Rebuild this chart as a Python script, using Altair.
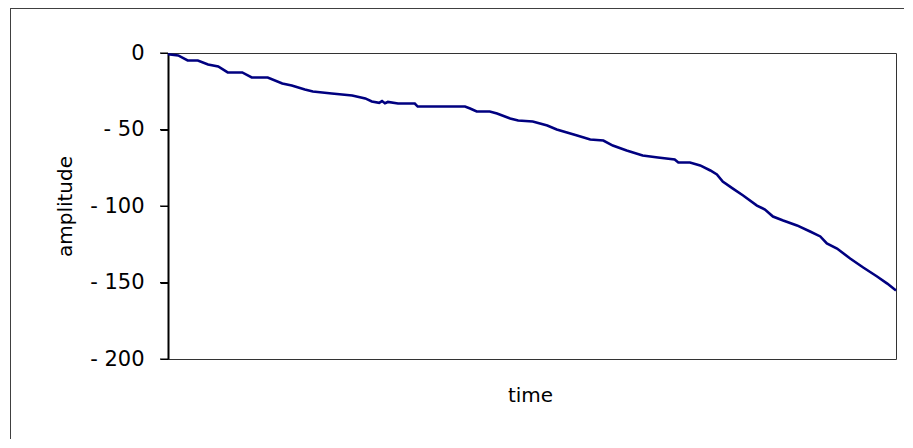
import altair as alt
import pandas as pd

# time axis (0..100, no labels) and amplitude values
time = [0, 1.4, 2.7, 4.1, 5.5, 6.9, 8.2, 10.2, 11.5, 13.7, 15.7, 17.0, 18.8, 19.9,
        22.5, 25.3, 27.1, 28.0, 29.0, 29.4, 29.8, 30.2, 31.6, 33.9, 34.3, 40.8, 41.5,
        42.4, 44.2, 45.2, 47.0, 48.1, 50.1, 52.1, 53.4, 54.8, 56.2, 58.0, 59.8, 61.1,
        63.0, 65.2, 67.3, 69.6, 70.1, 71.7, 73.1, 74.5, 75.4, 76.2, 77.6, 79.0, 80.9,
        82.0, 83.1, 84.5, 86.4, 88.2, 89.6, 90.5, 91.9, 93.7, 95.5, 97.4, 98.8, 100]
amplitude = [-0.8, -1.6, -4.9, -4.9, -7.5, -8.8, -12.7, -12.7, -16.0, -16.0, -19.9,
             -21.2, -23.9, -25.2, -26.5, -27.8, -29.7, -31.7, -32.6, -31.4, -32.8, -32.0,
             -33.0, -33.0, -35.0, -35.0, -36.3, -38.2, -38.2, -39.5, -42.8, -44.1, -44.8,
             -47.4, -50.0, -52.0, -53.9, -56.5, -57.2, -60.5, -63.7, -67.0, -68.3, -69.6,
             -71.6, -71.6, -73.5, -76.8, -79.4, -84.0, -88.6, -93.1, -99.7, -102.3,
             -106.9, -109.5, -112.7, -116.7, -119.9, -124.5, -127.8, -134.3, -140.2,
             -146.1, -150.7, -155.2]
y_ticks = [0, -50, -100, -150, -200]

df = pd.DataFrame({"time": time, "amplitude": amplitude})
df_ticks = pd.DataFrame({"amplitude": y_ticks})

W, H = 728, 306

x_enc = alt.X("time:Q",
              scale=alt.Scale(domain=[0, 100], nice=False, zero=False),
              axis=alt.Axis(title="time", labels=False, ticks=False, domain=False,
                            grid=False, titleFont="DejaVu Sans", titleFontSize=20,
                            titleFontWeight="normal", titleColor="#000000",
                            titleX=362, titleY=36, titleBaseline="middle",
                            titleAlign="center"))
y_scale = alt.Scale(domain=[-200, 0], nice=False)

line = alt.Chart(df).mark_line(color="#000080", strokeWidth=2.6).encode(
    x=x_enc,
    y=alt.Y("amplitude:Q", scale=y_scale,
            axis=alt.Axis(title="amplitude", values=y_ticks, grid=False,
                          labelExpr="datum.value == 0 ? '0' : '- ' + toString(abs(datum.value))",
                          labelFont="DejaVu Sans", labelFontSize=21, labelColor="#000000",
                          labelPadding=16, labelBaseline="middle",
                          ticks=True, tickSize=8, tickColor="#000000", tickWidth=1,
                          domain=True, domainColor="#000000", domainWidth=2,
                          titleFont="DejaVu Sans", titleFontSize=20,
                          titleFontWeight="normal", titleColor="#000000",
                          titleAngle=270, titleX=-103, titleY=H / 2,
                          titleBaseline="middle", titleAlign="center")),
)

ticks = alt.Chart(df_ticks).mark_rule(color="#000000", strokeWidth=1).encode(
    y=alt.Y("amplitude:Q", scale=y_scale),
    x=alt.value(-8), x2=alt.value(0))

frame_left = alt.Chart(df_ticks).mark_rule(color="#404040", strokeWidth=1).encode(
    x=alt.value(-157.5), y=alt.value(-44), y2=alt.value(387))
frame_top = alt.Chart(df_ticks).mark_rule(color="#404040", strokeWidth=1).encode(
    x=alt.value(-157.5), x2=alt.value(737), y=alt.value(-44.5))

chart = alt.layer(frame_left, frame_top, ticks, line).properties(
    width=W, height=H,
    autosize=alt.AutoSizeParams(type="none"),
    padding={"left": 160, "top": 45, "right": 8, "bottom": 80},
).configure(
    background="white",
    view=alt.ViewConfig(stroke="#333333", strokeWidth=1),
)

chart.save("out.html", embed_options={"renderer": "svg", "actions": False})
